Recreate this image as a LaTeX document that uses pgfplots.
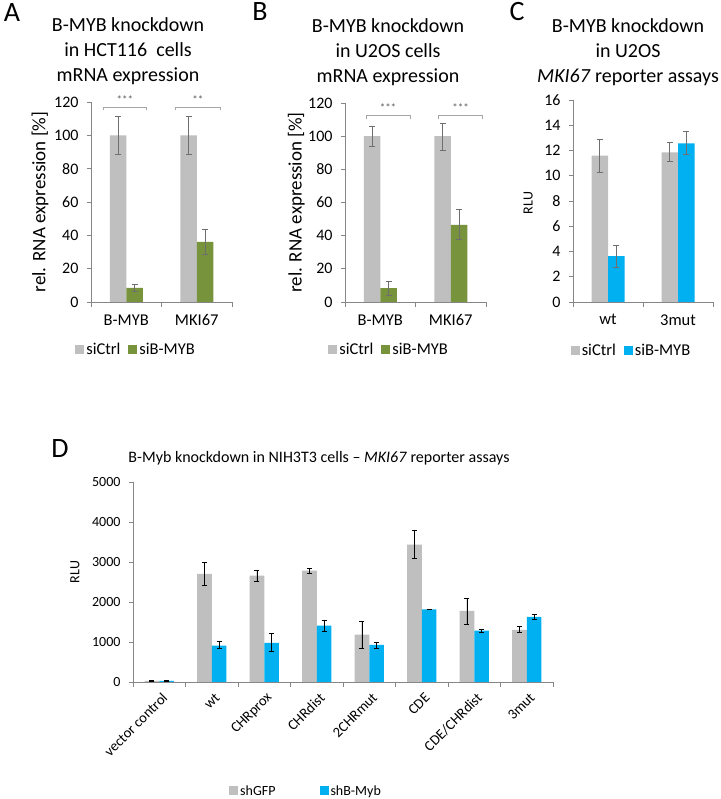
\documentclass[border=0pt]{standalone}
\usepackage{pgfplots}
\pgfplotsset{compat=1.18}
\usepackage{fontspec}
\setmainfont{Carlito}
\definecolor{bargray}{HTML}{BFBFBF}
\definecolor{bargreen}{HTML}{77933C}
\definecolor{barblue}{HTML}{00B0F0}
\definecolor{axgray}{HTML}{868686}
\definecolor{errgray}{HTML}{6E6E6E}
\definecolor{brgray}{HTML}{A6A6A6}
\definecolor{stargray}{HTML}{595959}
\pgfplotsset{
  sqleg/.style={legend image code/.code={\fill[##1] (0pt,-4.5pt) rectangle (9pt,4.5pt);}},
  base/.style={
    scale only axis,
    axis lines=left, axis line style={-, draw=axgray, line width=0.7pt},
    tick align=outside, major tick length=4pt, minor tick length=5pt,
    tick style={draw=axgray, line width=0.7pt},
    major x tick style={draw=none},
    ybar=0pt,
    enlargelimits=false, clip=false,
    scaled ticks=false,
    /pgf/number format/assume math mode=true,
    /pgf/number format/1000 sep={},
    legend style={draw=none, fill=none, legend columns=-1, anchor=center,
      /tikz/every even column/.append style={column sep=6pt}},
  },
  small3/.style={base,
    width=141pt, height=200pt,
    xmin=0, xmax=2, xtick={0.5,1.5}, minor xtick={0,1,2},
    bar width=16.5pt,
    yticklabel style={font=\fontsize{16}{16}\selectfont, xshift=-5pt},
    xticklabel style={font=\fontsize{16.5}{16.5}\selectfont, yshift=-5pt},
    legend style={font=\fontsize{16.5}{16.5}\selectfont},
  },
  errA/.style={error bars/.cd, y dir=both, y explicit,
    error bar style={errgray, line width=0.6pt},
    error mark options={rotate=90, errgray, line width=0.6pt, mark size=3pt}},
  errD/.style={error bars/.cd, y dir=both, y explicit,
    error bar style={black, line width=0.7pt},
    error mark options={rotate=90, black, line width=0.7pt, mark size=2.5pt}},
}
\begin{document}
\begin{tikzpicture}[x=1pt,y=1pt]
\useasboundingbox (0,0) rectangle (720,799);

% panel letters and titles
\node[font=\fontsize{28}{28}\selectfont] at (12,786) {A};
\node[font=\fontsize{28}{28}\selectfont] at (260,787) {B};
\node[font=\fontsize{28}{28}\selectfont] at (517,787) {C};
\node[font=\fontsize{28}{28}\selectfont] at (60,350) {D};
\node[align=center, font=\fontsize{20}{25}\selectfont] at (128,748) {B-MYB knockdown\\in HCT116\ \ cells\\mRNA expression};
\node[align=center, font=\fontsize{20}{25}\selectfont] at (388,747) {B-MYB knockdown\\in U2OS cells\\mRNA expression};
\node[align=center, font=\fontsize{20}{25}\selectfont] at (628,747) {B-MYB knockdown\\in U2OS\\\textit{MKI67} reporter assays};
\node[font=\fontsize{16}{16}\selectfont] at (319,341) {B-Myb knockdown in NIH3T3 cells – \textit{MKI67} reporter assays};

% ---------------- Panel A
\begin{axis}[small3, at={(91pt,497pt)}, anchor=south west,
  ymin=0, ymax=120, ytick={0,20,...,120},
  xticklabels={B-MYB,MKI67},
  ylabel={rel. RNA expression [\%]},
  ylabel style={at={(axis description cs:-0.362,0.5)}, anchor=center, font=\fontsize{19}{19}\selectfont},
  legend style={at={(axis description cs:0.32,-0.24)}}]
\addplot[sqleg, fill=bargray, draw=none, errA] table[x=x,y=y,y error plus=ep,y error minus=em] {
x y ep em
0.5 100 11.5 11.5
1.5 100 11.5 11.5
};
\addplot[sqleg, fill=bargreen, draw=none, errA] table[x=x,y=y,y error plus=ep,y error minus=em] {
x y ep em
0.5 8.5 1.9 1.9
1.5 36 7.4 7.4
};
\legend{siCtrl,siB-MYB}
\draw[brgray, line width=0.6pt] (axis cs:0.17,115) -- (axis cs:0.17,117) -- (axis cs:0.79,117) -- (axis cs:0.79,115);
\draw[brgray, line width=0.6pt] (axis cs:1.20,115) -- (axis cs:1.20,117) -- (axis cs:1.83,117) -- (axis cs:1.83,115);
\node[stargray, font=\fontsize{11}{11}\selectfont] at (axis cs:0.48,121.5) {***};
\node[stargray, font=\fontsize{11}{11}\selectfont] at (axis cs:1.515,121.5) {**};
\end{axis}

% ---------------- Panel B
\begin{axis}[small3, at={(345pt,497pt)}, anchor=south west, height=199pt,
  ymin=0, ymax=120, ytick={0,20,...,120},
  xticklabels={B-MYB,MKI67},
  ylabel={rel. RNA expression [\%]},
  ylabel style={at={(axis description cs:-0.345,0.5)}, anchor=center, font=\fontsize{19}{19}\selectfont},
  legend style={at={(axis description cs:0.313,-0.24)}}]
\addplot[sqleg, fill=bargray, draw=none, errA] table[x=x,y=y,y error plus=ep,y error minus=em] {
x y ep em
0.5 100 6 6
1.5 100 8 8.3
};
\addplot[sqleg, fill=bargreen, draw=none, errA] table[x=x,y=y,y error plus=ep,y error minus=em] {
x y ep em
0.5 8.3 4.4 4.1
1.5 46.5 9.4 8.7
};
\legend{siCtrl,siB-MYB}
\draw[brgray, line width=0.6pt] (axis cs:0.30,110.5) -- (axis cs:0.30,112.5) -- (axis cs:0.92,112.5) -- (axis cs:0.92,110.5);
\draw[brgray, line width=0.6pt] (axis cs:1.33,110.5) -- (axis cs:1.33,112.5) -- (axis cs:1.95,112.5) -- (axis cs:1.95,110.5);
\node[stargray, font=\fontsize{11}{11}\selectfont] at (axis cs:0.61,117) {***};
\node[stargray, font=\fontsize{11}{11}\selectfont] at (axis cs:1.64,117) {***};
\end{axis}

% ---------------- Panel C
\begin{axis}[small3, at={(573pt,497pt)}, anchor=south west, width=140pt, height=202pt,
  ymin=0, ymax=16, ytick={0,2,...,16},
  xticklabels={wt,3mut},
  ylabel={RLU},
  ylabel style={at={(axis description cs:-0.32,0.49)}, anchor=center, font=\fontsize{14}{14}\selectfont},
  legend style={at={(axis description cs:0.418,-0.24)}}]
\addplot[sqleg, fill=bargray, draw=none, errA] table[x=x,y=y,y error plus=ep,y error minus=em] {
x y ep em
0.5 11.6 1.3 1.35
1.5 11.86 0.76 0.75
};
\addplot[sqleg, fill=barblue, draw=none, errA] table[x=x,y=y,y error plus=ep,y error minus=em] {
x y ep em
0.5 3.63 0.87 0.9
1.5 12.57 0.98 0.85
};
\legend{siCtrl,siB-MYB}
\end{axis}

% ---------------- Panel D
\begin{axis}[base, at={(133pt,117pt)}, anchor=south west, width=420pt, height=200pt,
  xmin=0, xmax=8, xtick={0.5,1.5,2.5,3.5,4.5,5.5,6.5,7.5}, minor xtick={0,1,2,3,4,5,6,7,8},
  xticklabels={vector control,wt,CHRprox,CHRdist,2CHRmut,CDE,CDE/CHRdist,3mut},
  xticklabel style={xshift=8pt, yshift=-7pt, rotate=45, anchor=east, font=\fontsize{14.5}{14.5}\selectfont},
  ymin=0, ymax=5000, ytick={0,1000,...,5000},
  yticklabel style={font=\fontsize{14}{14}\selectfont, xshift=-5pt},
  bar width=14.7pt,
  ylabel={RLU},
  ylabel style={at={(axis description cs:-0.138,0.55)}, anchor=center, font=\fontsize{14}{14}\selectfont},
  legend style={at={(axis description cs:0.412,-0.545)}, font=\fontsize{14}{14}\selectfont,
    /tikz/every even column/.append style={column sep=42pt}}]
\addplot[sqleg, fill=bargray, draw=none, errD] table[x=x,y=y,y error plus=ep,y error minus=em] {
x y ep em
0.5 25 5 5
1.5 2700 290 285
2.5 2658 125 133
3.5 2783 67 58
4.5 1183 342 350
5.5 3433 350 333
6.5 1775 325 325
7.5 1300 80 70
};
\addplot[sqleg, fill=barblue, draw=none, errD] table[x=x,y=y,y error plus=ep,y error minus=em] {
x y ep em
0.5 30 5 5
1.5 910 98 77
2.5 975 233 200
3.5 1408 142 133
4.5 925 65 85
5.5 1815 10 10
6.5 1283 33 33
7.5 1625 58 67
};
\legend{shGFP,shB-Myb}
\end{axis}
\end{tikzpicture}
\end{document}
